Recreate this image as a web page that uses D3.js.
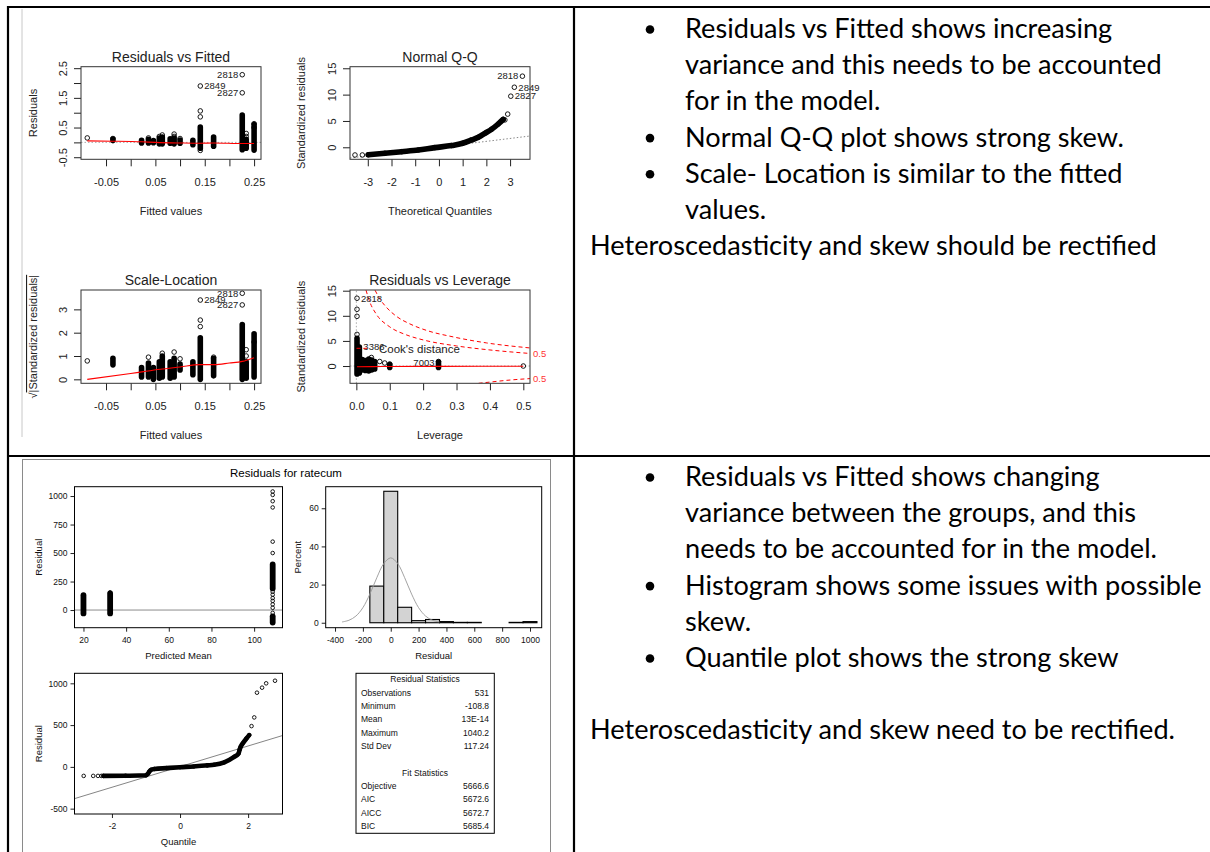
<!DOCTYPE html>
<html>
<head>
<meta charset="utf-8">
<script src="https://cdn.jsdelivr.net/npm/d3@7"></script>
<style>
  html, body { margin: 0; padding: 0; background: #fff; }
  svg { display: block; }
  .r text { font-family: "Liberation Sans", Arial, sans-serif; fill: #222; }
  .sas text { font-family: "Liberation Sans", Arial, sans-serif; fill: #111; }
  .note { font-family: Lato, "Open Sans", sans-serif; fill: #000; }
</style>
</head>
<body>
<svg id="page" width="1210" height="852"></svg>
<script>
// ---- R plot.lm panels ----
// Residuals vs Fitted
const rvfXTicks = [-0.05, 0, 0.05, 0.1, 0.15, 0.2, 0.25];
const rvfXLabels = ['-0.05', '', '0.05', '', '0.15', '', '0.25'];
const rvfYTicks = [-0.5, 0, 0.5, 1, 1.5, 2, 2.5];
const rvfYLabels = ['-0.5', '', '0.5', '', '1.5', '', '2.5'];
// dense stacks of points: [fitted, lowest residual, highest residual]
const rvfStacks = [
    [-0.036, 0.06, 0.11], [0.022, -0.02, 0.07], [0.036, -0.02, 0.10], [0.046, -0.01, 0.06],
    [0.058, -0.05, 0.15], [0.064, -0.05, 0.18], [0.080, -0.03, 0.12], [0.088, -0.05, 0.15],
    [0.100, -0.03, 0.08], [0.126, -0.08, 0.07], [0.141, -0.20, 0.52], [0.168, -0.13, 0.18],
    [0.226, -0.25, 0.92], [0.234, -0.20, 0.10], [0.250, -0.26, 0.60]
];
const rvfPoints = [
    [-0.088, 0.15], [-0.036, 0.13], [0.036, 0.15], [0.058, 0.2], [0.064, 0.25], [0.088, 0.28],
    [0.088, 0.2], [0.1, 0.13], [0.141, 0.86], [0.141, 1.06], [0.141, -0.27], [0.141, 1.9],
    [0.226, 2.28], [0.226, 1.67], [0.234, 0.3], [0.234, 0.2], [0.25, 0.5], [0.25, 0.63]
];
const rvfSmooth = [
    [-0.088, 0.05], [-0.036, 0.04], [0.022, 0.02], [0.05, 0.0], [0.1, -0.02],
    [0.141, -0.03], [0.168, -0.02], [0.226, -0.04], [0.25, -0.04]
];
const rvfIds = [[0.226, 2.28, '2818', 'left'], [0.141, 1.9, '2849', 'right'], [0.226, 1.67, '2827', 'left']];

// Normal Q-Q
const qqXTicks = [-3, -2, -1, 0, 1, 2, 3];
const qqYTicks = [0, 5, 10, 15];
const qqChain = [
    [-2.98, -1.42], [-2.28, -1.14], [-1.57, -0.83], [-0.87, -0.51], [-0.17, -0.06], [0.53, 0.32],
    [1.0, 0.76], [1.38, 1.39], [1.66, 1.9], [1.94, 2.66], [2.22, 3.42], [2.5, 4.42], [2.71, 5.3]
];
const qqPoints = [[-3.54, -1.46], [-3.23, -1.46], [2.78, 5.2], [2.9, 6.3], [3.03, 9.7], [3.18, 11.4], [3.52, 13.5]];
const qqLine = [[-3.75, -2.04], [3.84, 2.14]];
const qqIds = [[3.52, 13.5, '2818', 'left'], [3.18, 11.4, '2849', 'right'], [3.03, 9.7, '2827', 'right']];

// Scale-Location
const slYTicks = [0, 1, 2, 3];
const slStacks = [
    [-0.036, 0.62, 0.9], [0.022, 0.1, 0.5], [0.036, 0.1, 0.7], [0.046, 0.0, 0.5],
    [0.058, 0.05, 0.75], [0.064, 0.1, 1.0], [0.080, 0.05, 0.75], [0.088, 0.1, 0.9],
    [0.100, 0.4, 0.65], [0.126, 0.2, 0.75], [0.141, 0.0, 1.78], [0.168, 0.15, 0.9],
    [0.226, 0.0, 2.35], [0.234, 0.05, 0.75], [0.250, 0.1, 1.95]
];
const slPoints = [
    [-0.088, 0.79], [0.036, 0.95], [0.064, 1.12], [0.088, 1.17], [0.1, 0.88], [0.141, 2.26],
    [0.141, 2.54], [0.141, 3.4], [0.168, 0.95], [0.226, 3.69], [0.226, 3.19], [0.234, 1.27],
    [0.234, 1.0], [0.234, 0.1], [0.25, 1.6]
];
const slSmooth = [
    [-0.088, 0.0], [0.0, 0.25], [0.026, 0.33], [0.06, 0.43], [0.1, 0.53], [0.14, 0.63],
    [0.17, 0.63], [0.2, 0.7], [0.226, 0.77], [0.25, 0.93]
];
const slIds = [[0.226, 3.69, '2818', 'left'], [0.141, 3.4, '2849', 'right'], [0.226, 3.19, '2827', 'left']];

// Residuals vs Leverage
const rvlXTicks = [0, 0.1, 0.2, 0.3, 0.4, 0.5];
const rvlXLabels = ['0.0', '0.1', '0.2', '0.3', '0.4', '0.5'];
const rvlYTicks = [0, 5, 10, 15];
const rvlStacks = [
    [0.002, -1.6, 5.5], [0.009, -1.4, 3.8], [0.018, -0.8, 1.3], [0.027, -0.9, 1.1], [0.037, -1.0, 1.4],
    [0.046, -0.8, 1.2], [0.055, -0.6, 0.9], [0.1, -0.3, 0.3], [0.246, -0.3, 0.8]
];
const rvlPoints = [
    [0.002, 6.3], [0.002, 9.9], [0.002, 11.3], [0.002, 13.5], [0.045, 1.7], [0.07, 0.9],
    [0.085, 0.6], [0.1, 0.4], [0.246, 0.9], [0.5, 0.0]
];
const rvlSmooth = [[0.002, -0.15], [0.05, -0.12], [0.1, -0.1], [0.25, -0.06], [0.5, -0.05]];
const rvlIds = [[0.002, 13.5, '2818', 'right'], [0.009, 3.8, '3386', 'right'], [0.246, 0.7, '7003', 'left']];
const cookOne = [[0.056, 15.1], [0.07, 13.4], [0.09, 11.7], [0.12, 9.9], [0.16, 8.4], [0.21, 7.1], [0.29, 5.8], [0.39, 4.6], [0.52, 3.6]];
const cookHalf = [[0.029, 15.1], [0.04, 12.8], [0.06, 10.3], [0.1, 7.8], [0.15, 6.2], [0.2, 5.2], [0.3, 4.0], [0.4, 3.2], [0.52, 2.5]];
const cookHalfLow = [[0.366, -3.44], [0.4, -3.2], [0.45, -2.85], [0.52, -2.5]];
const cookLabels = [[2.5, '0.5'], [-2.5, '0.5']];

// ---- SAS residual panel ----
const pmXTicks = [20, 40, 60, 80, 100];
const pmYTicks = [0, 250, 500, 750, 1000];
const pmStacks = [[20, -30, 130], [32.5, -30, 145], [108.7, 190, 400], [108.7, -110, -55]];
const pmPoints = [
    [32.5, 155], [108.7, 1040], [108.7, 1010], [108.7, 955], [108.7, 900], [108.7, 600], [108.7, 500],
    [108.7, 160], [108.7, 135], [108.7, 105], [108.7, 80], [108.7, 50], [108.7, 20], [108.7, -25]
];

const histXTicks = [-400, -200, 0, 200, 400, 600, 800, 1000];
const histYTicks = [0, 20, 40, 60];
const histBinStart = [-150, -50, 50, 150, 250, 350, 450, 550, 650, 750, 850, 950];
const histPercent = [19.2, 68.9, 8.1, 1.1, 1.7, 0.6, 0.2, 0.2, 0, 0, 0.2, 0.6];
const normX = [-350, -300, -250, -200, -150, -100, -50, 0, 50, 100, 150, 200, 250, 300, 350];
const normY = [0.4, 1.3, 3.5, 7.9, 15.0, 23.6, 31.0, 34.0, 31.0, 23.6, 15.0, 7.9, 3.5, 1.3, 0.4];

const quXTicks = [-2, 0, 2];
const quYTicks = [-500, 0, 500, 1000];
const quChain = [
    [-2.25, -108], [-1.6, -106], [-1.0, -101], [-0.95, -85], [-0.9, -55], [-0.85, -35], [-0.75, -25],
    [-0.4, -15], [0, -4], [0.4, 5], [0.8, 18], [1.0, 25], [1.3, 55], [1.59, 120], [1.72, 160],
    [1.75, 205], [1.78, 240], [1.85, 285], [1.95, 340], [2.03, 380]
];
const quPoints = [
    [-2.83, -108], [-2.55, -108], [-2.41, -108], [-2.31, -108], [2.1, 488], [2.18, 592],
    [2.26, 888], [2.41, 948], [2.53, 1000], [2.79, 1031]
];
const quLine = [[-3.1, -380], [3.01, 375]];

const residStatNames = ['Observations', 'Minimum', 'Mean', 'Maximum', 'Std Dev'];
const residStatValues = ['531', '-108.8', '13E-14', '1040.2', '117.24'];
const fitStatNames = ['Objective', 'AIC', 'AICC', 'BIC'];
const fitStatValues = ['5666.6', '5672.6', '5672.7', '5685.4'];

// ---- notes ----
const notesTop = [
    { bullet: true, lines: ['Residuals vs Fitted shows increasing', 'variance and this needs to be accounted', 'for in the model.'] },
    { bullet: true, lines: ['Normal Q-Q plot shows strong skew.'] },
    { bullet: true, lines: ['Scale- Location is similar to the fitted', 'values.'] },
    { bullet: false, lines: ['Heteroscedasticity and skew should be rectified'] }
];
const notesBottom = [
    { bullet: true, lines: ['Residuals vs Fitted shows changing', 'variance between the groups, and this', 'needs to be accounted for in the model.'] },
    { bullet: true, lines: ['Histogram shows some issues with possible', 'skew.'] },
    { bullet: true, lines: ['Quantile plot shows the strong skew'] },
    { bullet: false, lines: [''] },
    { bullet: false, lines: ['Heteroscedasticity and skew need to be rectified.'] }
];

const svg = d3.select('#page');
let clipId = 0;

function styleAxis(a, size) {
    a.select('.domain').remove();
    a.attr('font-family', null).attr('font-size', size).attr('color', '#222');
}

function rPanel(o) {
    const g = svg.append('g').attr('class', 'r');
    const x = d3.scaleLinear().domain(o.xDomain).range([o.left, o.right]);
    const y = d3.scaleLinear().domain(o.yDomain).range([o.bottom, o.top]);

    g.append('g')
        .attr('transform', `translate(0,${o.bottom})`)
        .call(d3.axisBottom(x).tickValues(o.xTicks)
            .tickFormat((d, i) => o.xLabels ? o.xLabels[i] : String(d))
            .tickSize(7).tickSizeOuter(0).tickPadding(12))
        .call(a => styleAxis(a, 11));

    g.append('g')
        .attr('transform', `translate(${o.left},0)`)
        .call(d3.axisLeft(y).tickValues(o.yTicks)
            .tickFormat((d, i) => o.yLabels ? o.yLabels[i] : String(d))
            .tickSize(7).tickSizeOuter(0))
        .call(a => styleAxis(a, 11))
        .selectAll('text')
        .attr('x', null).attr('dy', null)
        .attr('text-anchor', 'middle')
        .attr('transform', `translate(${-o.yLabOff},0) rotate(-90)`);

    const id = 'clip' + (clipId++);
    g.append('clipPath').attr('id', id).append('rect')
        .attr('x', o.left).attr('y', o.top)
        .attr('width', o.right - o.left).attr('height', o.bottom - o.top);
    const plot = g.append('g').attr('clip-path', `url(#${id})`);

    g.append('rect')
        .attr('x', o.left).attr('y', o.top)
        .attr('width', o.right - o.left).attr('height', o.bottom - o.top)
        .attr('fill', 'none').attr('stroke', '#333').attr('stroke-width', 1);

    const mid = (o.left + o.right) / 2;
    g.append('text').attr('x', mid).attr('y', o.top - 5)
        .attr('text-anchor', 'middle').attr('font-size', 14).text(o.title);
    g.append('text').attr('x', mid).attr('y', o.bottom + 55.5)
        .attr('text-anchor', 'middle').attr('font-size', 11).text(o.xTitle);
    const yt = g.append('text')
        .attr('transform', `translate(${o.left - o.yTitleOff},${(o.top + o.bottom) / 2}) rotate(-90)`)
        .attr('text-anchor', 'middle').attr('font-size', 11);
    if (o.sqrt) {
        yt.append('tspan').text('\u221A');
        yt.append('tspan').style('text-decoration', 'overline').text('|Standardized residuals|');
    } else {
        yt.text(o.yTitle);
    }
    return { g, plot, x, y };
}

function stacks(p, data, r, fill) {
    p.plot.selectAll(null).data(data).enter().append('rect')
        .attr('x', d => p.x(d[0]) - r - 0.5)
        .attr('width', 2 * r + 1)
        .attr('y', d => p.y(d[2]) - r - 0.5)
        .attr('height', d => p.y(d[1]) - p.y(d[2]) + 2 * r + 1)
        .attr('rx', r + 0.5)
        .attr('fill', fill || '#000');
}

function points(p, data, r, w) {
    p.plot.selectAll(null).data(data).enter().append('circle')
        .attr('cx', d => p.x(d[0]))
        .attr('cy', d => p.y(d[1]))
        .attr('r', r)
        .attr('fill', 'none')
        .attr('stroke', '#000')
        .attr('stroke-width', w);
}

function chain(p, data, r, w) {
    p.plot.append('path')
        .datum(data)
        .attr('fill', 'none').attr('stroke', '#000')
        .attr('stroke-width', 2 * r + 1).attr('stroke-linecap', 'round').attr('stroke-linejoin', 'round')
        .attr('d', d3.line().x(d => p.x(d[0])).y(d => p.y(d[1])).curve(d3.curveMonotoneX));
    points(p, data, r, w);
}

function curve(p, data, color, width, dash, shape) {
    p.plot.append('path')
        .datum(data)
        .attr('fill', 'none').attr('stroke', color).attr('stroke-width', width)
        .attr('stroke-dasharray', dash)
        .attr('d', d3.line().x(d => p.x(d[0])).y(d => p.y(d[1])).curve(shape || d3.curveMonotoneX));
}

function ids(p, data) {
    p.g.selectAll(null).data(data).enter().append('text')
        .attr('x', d => p.x(d[0]) + (d[3] === 'left' ? -4 : 4))
        .attr('y', d => p.y(d[1]) + 3.3)
        .attr('text-anchor', d => d[3] === 'left' ? 'end' : 'start')
        .attr('font-size', 9.5)
        .text(d => d[2]);
}

// ---- table and picture frames ----
const frame = svg.append('g');
frame.append('line').attr('x1', 22).attr('x2', 22).attr('y1', 9).attr('y2', 437).attr('stroke', '#c8c8c8');
frame.append('rect').attr('x', 22.5).attr('y', 459.5).attr('width', 528).attr('height', 420)
    .attr('fill', 'none').attr('stroke', '#8a8a8a');

// Residuals vs Fitted
const p1 = rPanel({
    left: 81, right: 261, top: 66.7, bottom: 159.3,
    xDomain: [-0.1007, 0.264], yDomain: [-0.57, 2.55],
    xTicks: rvfXTicks, xLabels: rvfXLabels, yTicks: rvfYTicks, yLabels: rvfYLabels,
    yLabOff: 14, yTitleOff: 44,
    title: 'Residuals vs Fitted', xTitle: 'Fitted values', yTitle: 'Residuals'
});
p1.plot.append('line')
    .attr('x1', p1.x.range()[0]).attr('x2', p1.x.range()[1])
    .attr('y1', p1.y(0)).attr('y2', p1.y(0))
    .attr('stroke', '#aaa').attr('stroke-dasharray', '1.5,2');
stacks(p1, rvfStacks, 2.3);
points(p1, rvfPoints, 2.3, 0.9);
curve(p1, rvfSmooth, '#f00', 1.1);
ids(p1, rvfIds);

// Normal Q-Q
const p2 = rPanel({
    left: 350, right: 530, top: 66.7, bottom: 159.3,
    xDomain: [-3.75, 3.84], yDomain: [-2.28, 15.3],
    xTicks: qqXTicks, yTicks: qqYTicks,
    yLabOff: 14, yTitleOff: 45,
    title: 'Normal Q-Q', xTitle: 'Theoretical Quantiles', yTitle: 'Standardized residuals'
});
curve(p2, qqLine, '#888', 1, '1.5,2', d3.curveLinear);
chain(p2, qqChain, 2.3, 0.9);
points(p2, qqPoints, 2.3, 0.9);
ids(p2, qqIds);

// Scale-Location
const p3 = rPanel({
    left: 81, right: 261, top: 290, bottom: 383.3,
    xDomain: [-0.1007, 0.264], yDomain: [-0.17, 3.83],
    xTicks: rvfXTicks, xLabels: rvfXLabels, yTicks: slYTicks,
    yLabOff: 14, yTitleOff: 44, sqrt: true,
    title: 'Scale-Location', xTitle: 'Fitted values'
});
stacks(p3, slStacks, 2.3);
points(p3, slPoints, 2.3, 0.9);
curve(p3, slSmooth, '#f00', 1.1);
ids(p3, slIds);

// Residuals vs Leverage
const p4 = rPanel({
    left: 350, right: 530, top: 290, bottom: 383.3,
    xDomain: [-0.019, 0.52], yDomain: [-3.44, 15.14],
    xTicks: rvlXTicks, xLabels: rvlXLabels, yTicks: rvlYTicks,
    yLabOff: 14, yTitleOff: 45,
    title: 'Residuals vs Leverage', xTitle: 'Leverage', yTitle: 'Standardized residuals'
});
p4.plot.append('line')
    .attr('x1', p4.x.range()[0]).attr('x2', p4.x.range()[1])
    .attr('y1', p4.y(0)).attr('y2', p4.y(0))
    .attr('stroke', '#aaa').attr('stroke-dasharray', '1.5,2');
p4.plot.append('line')
    .attr('x1', p4.x(0)).attr('x2', p4.x(0))
    .attr('y1', p4.y.range()[0]).attr('y2', p4.y.range()[1])
    .attr('stroke', '#aaa').attr('stroke-dasharray', '1.5,2');
stacks(p4, rvlStacks, 2.3);
points(p4, rvlPoints, 2.3, 0.9);
curve(p4, rvlSmooth, '#f00', 1.1);
curve(p4, cookOne, '#f00', 1, '4,3');
curve(p4, cookHalf, '#f00', 1, '4,3');
curve(p4, cookHalfLow, '#f00', 1, '4,3');
p4.g.selectAll(null).data(cookLabels).enter().append('text')
    .attr('x', p4.x.range()[1] + 3)
    .attr('y', d => p4.y(d[0]) + 3.5)
    .attr('font-size', 9.5)
    .style('fill', '#f33')
    .text(d => d[1]);
ids(p4, rvlIds);
// legend
p4.g.append('line')
    .attr('x1', 356.5).attr('x2', 367).attr('y1', 348.3).attr('y2', 348.3)
    .attr('stroke', '#f00').attr('stroke-dasharray', '4,3');
p4.g.append('text').attr('x', 379).attr('y', 352.5).attr('font-size', 11.5).text("Cook's distance");

// ---- SAS panels ----
function sasPanel(o) {
    const g = svg.append('g').attr('class', 'sas');
    const x = d3.scaleLinear().domain(o.xDomain).range([o.left, o.right]);
    const y = d3.scaleLinear().domain(o.yDomain).range([o.bottom, o.top]);

    g.append('g')
        .attr('transform', `translate(0,${o.bottom})`)
        .call(d3.axisBottom(x).tickValues(o.xTicks).tickFormat(d => String(d))
            .tickSize(4).tickSizeOuter(0).tickPadding(5))
        .call(a => styleAxis(a, 8.5));
    g.append('g')
        .attr('transform', `translate(${o.left},0)`)
        .call(d3.axisLeft(y).tickValues(o.yTicks).tickFormat(d => String(d))
            .tickSize(4).tickSizeOuter(0).tickPadding(3))
        .call(a => styleAxis(a, 8.5));

    const id = 'clip' + (clipId++);
    g.append('clipPath').attr('id', id).append('rect')
        .attr('x', o.left).attr('y', o.top)
        .attr('width', o.right - o.left).attr('height', o.bottom - o.top);
    const plot = g.append('g').attr('clip-path', `url(#${id})`);

    g.append('rect')
        .attr('x', o.left).attr('y', o.top)
        .attr('width', o.right - o.left).attr('height', o.bottom - o.top)
        .attr('fill', 'none').attr('stroke', '#000').attr('stroke-width', 1);

    g.append('text').attr('x', (o.left + o.right) / 2).attr('y', o.bottom + 31)
        .attr('text-anchor', 'middle').attr('font-size', 9.5).text(o.xTitle);
    g.append('text')
        .attr('transform', `translate(${o.left - o.yTitleOff},${(o.top + o.bottom) / 2}) rotate(-90)`)
        .attr('text-anchor', 'middle').attr('font-size', 9.5).text(o.yTitle);
    return { g, plot, x, y };
}

svg.append('text').attr('class', 'sas')
    .attr('x', 286).attr('y', 477).attr('text-anchor', 'middle')
    .attr('font-size', 11.5)
    .style('font-family', '"Liberation Sans", Arial, sans-serif')
    .text('Residuals for ratecum');

// Residual vs Predicted Mean
const s1 = sasPanel({
    left: 74.5, right: 282.5, top: 486.7, bottom: 627.7,
    xDomain: [15.8, 113.3], yDomain: [-155, 1082],
    xTicks: pmXTicks, yTicks: pmYTicks, yTitleOff: 33,
    xTitle: 'Predicted Mean', yTitle: 'Residual'
});
s1.plot.append('line')
    .attr('x1', s1.x.range()[0]).attr('x2', s1.x.range()[1])
    .attr('y1', s1.y(0)).attr('y2', s1.y(0))
    .attr('stroke', '#8c8c8c').attr('stroke-width', 1);
stacks(s1, pmStacks, 2.4);
points(s1, pmPoints, 1.8, 0.9);

// Histogram
const s2 = sasPanel({
    left: 325.7, right: 541.7, top: 486.7, bottom: 627.7,
    xDomain: [-467, 1084], yDomain: [-2.6, 71.3],
    xTicks: histXTicks, yTicks: histYTicks, yTitleOff: 24.5,
    xTitle: 'Residual', yTitle: 'Percent'
});
s2.plot.selectAll(null).data(histBinStart).enter().append('rect')
    .attr('x', d => s2.x(d))
    .attr('width', d => s2.x(d + 100) - s2.x(d))
    .attr('y', (d, i) => s2.y(histPercent[i]))
    .attr('height', (d, i) => s2.y(0) - s2.y(histPercent[i]))
    .attr('fill', '#d3d3d3').attr('stroke', '#000').attr('stroke-width', 1.1);
s2.plot.append('path')
    .datum(normX.map((v, i) => [v, normY[i]]))
    .attr('fill', 'none').attr('stroke', '#999').attr('stroke-width', 0.9)
    .attr('d', d3.line().x(d => s2.x(d[0])).y(d => s2.y(d[1])).curve(d3.curveCatmullRom));

// Quantile plot
const s3 = sasPanel({
    left: 74.5, right: 282.5, top: 673.3, bottom: 814,
    xDomain: [-3.1, 3.01], yDomain: [-564, 1120],
    xTicks: quXTicks, yTicks: quYTicks, yTitleOff: 33,
    xTitle: 'Quantile', yTitle: 'Residual'
});
curve(s3, quLine, '#777', 0.9, null, d3.curveLinear);
chain(s3, quChain, 1.8, 0.9);
points(s3, quPoints, 1.8, 0.9);

// Statistics box
const stats = svg.append('g').attr('class', 'sas');
const rowY = d3.scaleLinear().domain([0, 11]).range([679.3, 826]);
stats.append('rect').attr('x', 356).attr('y', 673.3).attr('width', 138.3).attr('height', 160)
    .attr('fill', 'none').attr('stroke', '#000').attr('stroke-width', 1);
const statRows = [{ head: 'Residual Statistics' }]
    .concat(residStatNames.map((n, i) => ({ name: n, value: residStatValues[i] })))
    .concat([{ blank: true }, { head: 'Fit Statistics' }])
    .concat(fitStatNames.map((n, i) => ({ name: n, value: fitStatValues[i] })));
statRows.forEach((r, i) => {
    if (r.head) {
        stats.append('text').attr('x', 425).attr('y', rowY(i) + 3).attr('text-anchor', 'middle')
            .attr('font-size', 8.5).text(r.head);
    } else if (!r.blank) {
        stats.append('text').attr('x', 361).attr('y', rowY(i) + 3).attr('font-size', 8.5).text(r.name);
        stats.append('text').attr('x', 489).attr('y', rowY(i) + 3).attr('text-anchor', 'end')
            .attr('font-size', 8.5).text(r.value);
    }
});

// ---- notes column ----
function notes(list, firstBaseline) {
    const g = svg.append('g');
    let line = 0;
    list.forEach(item => {
        item.lines.forEach((t, j) => {
            const yb = firstBaseline + line * 36.2;
            if (item.bullet && j === 0) {
                g.append('circle').attr('cx', 650).attr('cy', yb - 8.5).attr('r', 4.3).attr('fill', '#000');
            }
            g.append('text').attr('class', 'note')
                .attr('x', item.bullet ? 685 : 590).attr('y', yb)
                .attr('font-size', 24).text(t);
            line++;
        });
    });
    return g;
}
notes(notesTop, 38);
notes(notesBottom, 486);

// size note font so the long closing sentence spans like the source
const probe = svg.selectAll('text.note').filter(function () {
    return d3.select(this).text() === 'Heteroscedasticity and skew should be rectified';
}).node();
if (probe) {
    const k = 567 / probe.getComputedTextLength();
    svg.selectAll('text.note').attr('font-size', 24 * k);
}

// ---- table rules ----
const rules = svg.append('g').attr('stroke', '#000').attr('stroke-width', 2.2);
rules.append('line').attr('x1', 7).attr('x2', 1210).attr('y1', 7).attr('y2', 7);
rules.append('line').attr('x1', 8).attr('x2', 8).attr('y1', 6).attr('y2', 852);
rules.append('line').attr('x1', 574).attr('x2', 574).attr('y1', 6).attr('y2', 852);
rules.append('line').attr('x1', 7).attr('x2', 1210).attr('y1', 456).attr('y2', 456);
</script>
</body>
</html>
